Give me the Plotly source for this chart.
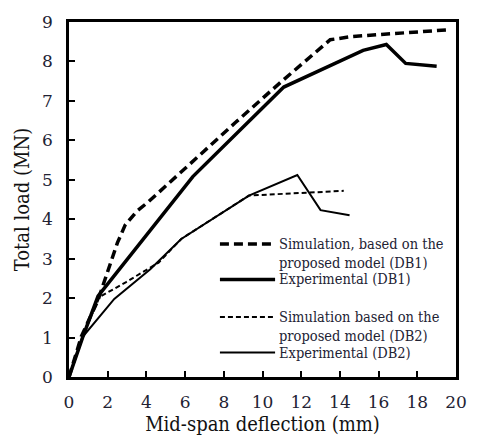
import plotly.graph_objects as go

# Data (mid-span deflection in mm, total load in MN)
sim_db1_x = [0, 0.64, 1.5, 2.1, 2.5, 2.9, 3.5, 4.1, 6.0, 8.6, 11.0, 13.5, 14.6, 19.5]
sim_db1_y = [0, 1.03, 1.95, 2.85, 3.4, 3.85, 4.2, 4.44, 5.3, 6.45, 7.5, 8.55, 8.63, 8.8]

exp_db1_x = [0, 0.7, 1.5, 6.4, 11.1, 15.2, 16.4, 17.4, 19.0]
exp_db1_y = [0, 1.0, 2.05, 5.08, 7.35, 8.28, 8.43, 7.95, 7.88]

sim_db2_x = [0, 0.7, 1.58, 2.93, 4.63, 5.8, 9.3, 14.2]
sim_db2_y = [0, 1.03, 2.03, 2.4, 2.9, 3.5, 4.6, 4.72]

exp_db2_x = [0, 0.73, 2.34, 4.2, 5.8, 9.3, 11.8, 13.0, 14.5]
exp_db2_y = [0, 1.03, 1.98, 2.73, 3.5, 4.6, 5.12, 4.23, 4.1]

x_ticks = [0, 2, 4, 6, 8, 10, 12, 14, 16, 18, 20]
y_ticks = [0, 1, 2, 3, 4, 5, 6, 7, 8, 9]

FONT = "DejaVu Serif Condensed, DejaVu Serif"
TICKFONT = "DejaVu Serif"
TICKCOL = "#222233"
THICK_DASH = "9px,5px"
THIN_DASH = "5px,3px"

fig = go.Figure()
fig.add_trace(go.Scatter(x=sim_db1_x, y=sim_db1_y, mode="lines",
                         line=dict(color="black", width=3.5, dash=THICK_DASH)))
fig.add_trace(go.Scatter(x=exp_db1_x, y=exp_db1_y, mode="lines",
                         line=dict(color="black", width=3.5)))
fig.add_trace(go.Scatter(x=sim_db2_x, y=sim_db2_y, mode="lines",
                         line=dict(color="black", width=2, dash=THIN_DASH)))
fig.add_trace(go.Scatter(x=exp_db2_x, y=exp_db2_y, mode="lines",
                         line=dict(color="black", width=2)))

legend_items = [
    (3.37, dict(color="black", width=3.5, dash=THICK_DASH)),
    (2.47, dict(color="black", width=3.5)),
    (1.52, dict(color="black", width=2, dash=THIN_DASH)),
    (0.62, dict(color="black", width=2)),
]
for yy, ln in legend_items:
    fig.add_shape(type="line", x0=7.8, x1=10.65, y0=yy, y1=yy, xref="x", yref="y", line=ln)

legend_text = [
    (3.37, "Simulation, based on the"),
    (2.9, "proposed model (DB1)"),
    (2.48, "Experimental (DB1)"),
    (1.52, "Simulation based on the"),
    (1.04, "proposed model (DB2)"),
    (0.62, "Experimental (DB2)"),
]
for yy, t in legend_text:
    fig.add_annotation(x=10.8, y=yy, xref="x", yref="y", text=t, showarrow=False,
                       xanchor="left", yanchor="middle", borderpad=0,
                       font=dict(family=FONT, size=14.5, color=TICKCOL))

fig.update_layout(
    width=479, height=440,
    margin=dict(l=69, r=17, t=17, b=62),
    paper_bgcolor="white", plot_bgcolor="white",
    showlegend=False,
)
fig.update_xaxes(range=[0, 20], tickvals=x_ticks, ticks="inside", ticklen=6, tickwidth=2,
                 tickcolor="black", showline=True, linecolor="black", linewidth=2.5,
                 mirror=True, showgrid=False, zeroline=False, ticklabelstandoff=8,
                 tickfont=dict(family=TICKFONT, size=17, color=TICKCOL),
                 title=dict(text="Mid-span deflection (mm)", font=dict(family=FONT, size=20, color="#111"),
                            standoff=2))
fig.update_yaxes(range=[0, 9], tickvals=y_ticks, ticks="inside", ticklen=6, tickwidth=2,
                 tickcolor="black", showline=True, linecolor="black", linewidth=2.5,
                 mirror=True, showgrid=False, zeroline=False, ticklabelstandoff=10,
                 tickfont=dict(family=TICKFONT, size=17, color=TICKCOL),
                 title=dict(text="Total load (MN)", font=dict(family=FONT, size=20, color="#111"),
                            standoff=8))

fig.write_html("out.html")
